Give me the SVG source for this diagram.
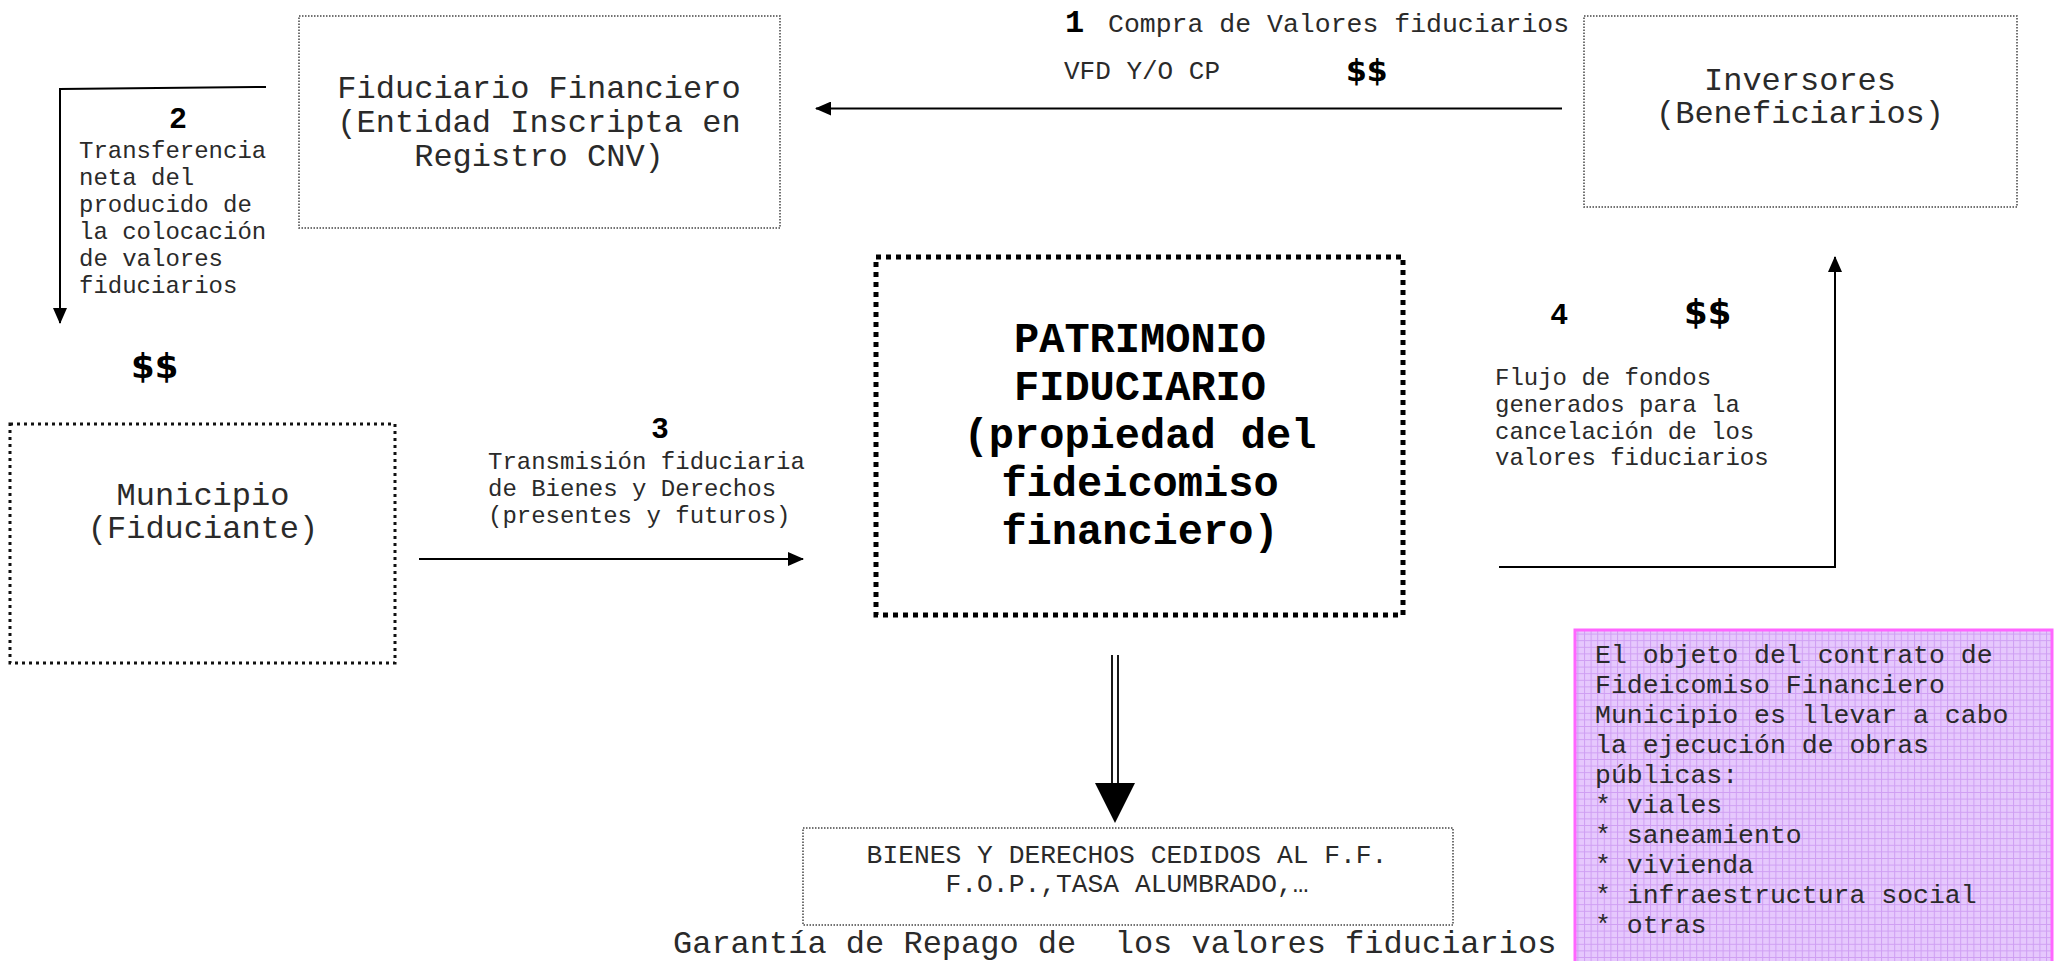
<svg xmlns="http://www.w3.org/2000/svg" width="2058" height="961" viewBox="0 0 2058 961">
<style>
.mono{font-family:"Liberation Mono","Courier New",monospace;fill:#2a2a2a}
.box{font-size:32px}
.lbl{font-size:24px}
.num{font-family:"Liberation Sans",Arial,sans-serif;font-weight:bold;font-size:30px;fill:#000}
.dol{font-family:"DejaVu Sans",sans-serif;font-weight:bold;fill:#000}
.thin{fill:none;stroke:#444;stroke-width:1.5;stroke-dasharray:1.5 1.5}
.conn{fill:none;stroke:#000;stroke-width:2}
</style>
<defs>
<marker id="ah" viewBox="0 0 16 14" refX="15" refY="7" markerWidth="16" markerHeight="14" markerUnits="userSpaceOnUse" orient="auto">
<path d="M0,0 L16,7 L0,14 Z" fill="#000"/>
</marker>
<pattern id="grid" width="6.6" height="6.6" patternUnits="userSpaceOnUse">
<rect width="6.6" height="6.6" fill="#e6c8fd"/>
<path d="M0,0.5 H6.6 M0.5,0 V6.6" stroke="#cf9ff3" stroke-width="1"/>
</pattern>
</defs>
<rect width="2058" height="961" fill="#fff"/>

<g id="connectors">
<line class="conn" x1="1562" y1="108.5" x2="816" y2="108.5" stroke-width="3" marker-end="url(#ah)"/>
<polyline class="conn" points="266,87 60,89 60,323" marker-end="url(#ah)"/>
<line class="conn" x1="419" y1="559" x2="803" y2="559" marker-end="url(#ah)"/>
<polyline class="conn" points="1499,567 1835,567 1835,257" marker-end="url(#ah)"/>
<line x1="1112" y1="655" x2="1112" y2="786" stroke="#000" stroke-width="1.8"/>
<line x1="1118" y1="655" x2="1118" y2="786" stroke="#000" stroke-width="1.8"/>
<path d="M1095,783 L1135,783 L1115,823 Z" fill="#000"/>
</g>

<g id="labels">
<text class="mono" x="1065" y="32" font-size="32" font-weight="bold" style="fill:#000">1</text>
<text class="mono" x="1108" y="32" font-size="26.5">Compra de Valores fiduciarios</text>
<text class="mono" x="1064" y="79" font-size="26">VFD Y/O CP</text>
<text class="dol" x="1346" y="81" font-size="30">$$</text>
<text class="num" x="178" y="128" text-anchor="middle">2</text>
<text class="mono lbl" x="79"><tspan x="79" y="158">Transferencia</tspan><tspan x="79" y="185">neta del</tspan><tspan x="79" y="212">producido de</tspan><tspan x="79" y="239">la colocación</tspan><tspan x="79" y="266">de valores</tspan><tspan x="79" y="293">fiduciarios</tspan></text>
<text class="dol" x="131" y="378" font-size="34">$$</text>
<text class="num" x="660" y="438" text-anchor="middle">3</text>
<text class="mono lbl"><tspan x="488" y="469">Transmisión fiduciaria</tspan><tspan x="488" y="496">de Bienes y Derechos</tspan><tspan x="488" y="523">(presentes y futuros)</tspan></text>
<text class="num" x="1559" y="324" text-anchor="middle">4</text>
<text class="dol" x="1684" y="324" font-size="34">$$</text>
<text class="mono lbl"><tspan x="1495" y="385">Flujo de fondos</tspan><tspan x="1495" y="412">generados para la</tspan><tspan x="1495" y="439">cancelación de los</tspan><tspan x="1495" y="465">valores fiduciarios</tspan></text>
<text class="mono" x="673" y="953" font-size="32" xml:space="preserve">Garantía de Repago de  los valores fiduciarios</text>
</g>

<g id="fiduciario">
<rect class="thin" x="299" y="16" width="481" height="212"/>
<text class="mono box" text-anchor="middle"><tspan x="539" y="98">Fiduciario Financiero</tspan><tspan x="539" y="132">(Entidad Inscripta en</tspan><tspan x="539" y="166">Registro CNV)</tspan></text>
</g>

<g id="inversores">
<rect class="thin" x="1584" y="16" width="433" height="191"/>
<text class="mono box" text-anchor="middle"><tspan x="1800" y="90">Inversores</tspan><tspan x="1800" y="123">(Beneficiarios)</tspan></text>
</g>

<g id="municipio">
<rect x="10" y="424" width="385" height="239" fill="none" stroke="#111" stroke-width="3" stroke-dasharray="3 4"/>
<text class="mono box" text-anchor="middle"><tspan x="203" y="505">Municipio</tspan><tspan x="203" y="538">(Fiduciante)</tspan></text>
</g>

<g id="patrimonio">
<rect x="876" y="257" width="527" height="358" fill="none" stroke="#000" stroke-width="5" stroke-dasharray="5 5"/>
<text class="mono" font-size="42" font-weight="bold" text-anchor="middle" style="fill:#000"><tspan x="1140" y="352">PATRIMONIO</tspan><tspan x="1140" y="400">FIDUCIARIO</tspan><tspan x="1140" y="448">(propiedad del</tspan><tspan x="1140" y="496">fideicomiso</tspan><tspan x="1140" y="544">financiero)</tspan></text>
</g>

<g id="bienes">
<rect class="thin" x="803" y="828" width="650" height="97"/>
<text class="mono" font-size="26.3" text-anchor="middle"><tspan x="1127" y="863">BIENES Y DERECHOS CEDIDOS AL F.F.</tspan><tspan x="1127" y="892">F.O.P.,TASA ALUMBRADO,…</tspan></text>
</g>

<g id="objeto">
<rect x="1575" y="630" width="477" height="335" fill="url(#grid)" stroke="#ff66ff" stroke-width="3"/>
<text class="mono" font-size="26.5" xml:space="preserve"><tspan x="1595" y="663">El objeto del contrato de</tspan><tspan x="1595" y="693">Fideicomiso Financiero</tspan><tspan x="1595" y="723">Municipio es llevar a cabo</tspan><tspan x="1595" y="753">la ejecución de obras</tspan><tspan x="1595" y="783">públicas:</tspan><tspan x="1595" y="813">* viales</tspan><tspan x="1595" y="843">* saneamiento</tspan><tspan x="1595" y="873">* vivienda</tspan><tspan x="1595" y="903">* infraestructura social</tspan><tspan x="1595" y="933">* otras</tspan></text>
</g>
</svg>
